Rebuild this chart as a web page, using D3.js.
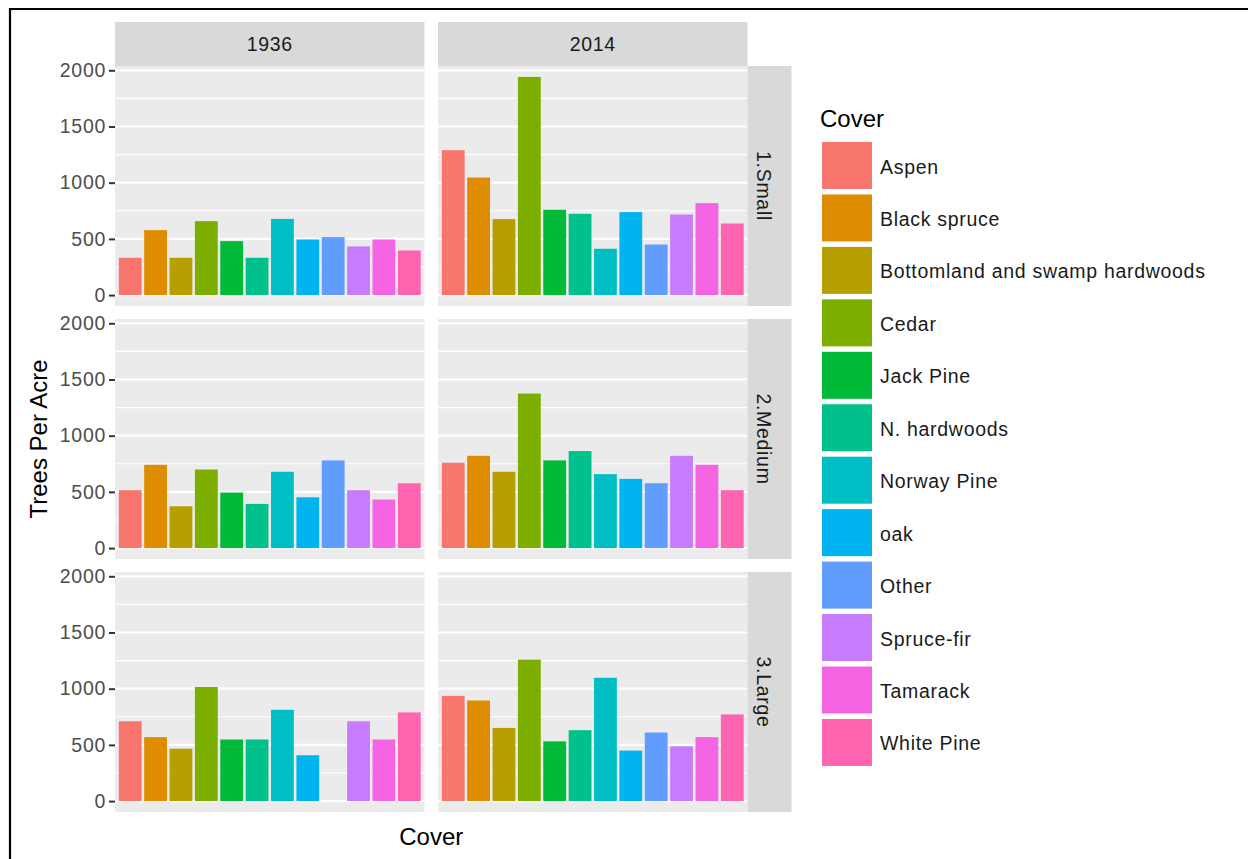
<!DOCTYPE html>
<html>
<head>
<meta charset="utf-8">
<script src="https://cdn.jsdelivr.net/npm/d3@7"></script>
<style>
  html, body { margin: 0; padding: 0; background: #fff; }
  svg { display: block; font-family: "Liberation Sans", Arial, sans-serif; }
</style>
</head>
<body>
<svg id="chart" width="1248" height="859"></svg>
<script>
// ---- data ----
const categories = ["Aspen", "Black spruce", "Bottomland and swamp hardwoods", "Cedar", "Jack Pine",
  "N. hardwoods", "Norway Pine", "oak", "Other", "Spruce-fir", "Tamarack", "White Pine"];
const years = ["1936", "2014"];
const sizes = ["1.Small", "2.Medium", "3.Large"];
const colors = ["#F8766D", "#DE8C00", "#B79F00", "#7CAE00", "#00BA38", "#00C08B",
  "#00BFC4", "#00B4F0", "#619CFF", "#C77CFF", "#F564E3", "#FF64B0"];

const small1936  = [332, 578, 332, 658, 480, 332, 678, 495, 516, 433, 495, 397];
const small2014  = [1289, 1046, 676, 1941, 759, 723, 412, 738, 450, 717, 818, 637];
const medium1936 = [515, 741, 372, 699, 494, 393, 679, 452, 780, 515, 432, 577];
const medium2014 = [759, 821, 679, 1375, 780, 863, 658, 616, 577, 821, 741, 515];
const large1936  = [710, 569, 466, 1015, 548, 548, 812, 408, null, 710, 548, 789];
const large2014  = [936, 895, 651, 1258, 531, 631, 1097, 449, 610, 487, 569, 771];

const yTicks = [0, 500, 1000, 1500, 2000];
const yMinor = [250, 750, 1250, 1750];

const panelData = {
  "1.Small":  { "1936": small1936,  "2014": small2014 },
  "2.Medium": { "1936": medium1936, "2014": medium2014 },
  "3.Large":  { "1936": large1936,  "2014": large2014 }
};

// ---- layout ----
const svg = d3.select("#chart");
const panelLeft = 115, panelW = 309.5, hGap = 13.5;
const panelTop = 66, panelH = 240, vGap = 13;
const stripH = 44, stripW = 44;
const labelFont = 19.5, titleFont = 24, ls = "0.7px";

// frame (cropped screenshot border)
svg.append("line").attr("x1", 9).attr("x2", 1248).attr("y1", 9).attr("y2", 9)
  .attr("stroke", "#000").attr("stroke-width", 2.2);
svg.append("line").attr("x1", 10).attr("x2", 10).attr("y1", 8).attr("y2", 859)
  .attr("stroke", "#000").attr("stroke-width", 2.2);

const maxVal = d3.max([small1936, small2014, medium1936, medium2014, large1936, large2014].flat());
const pad = maxVal * 0.05;
const y = d3.scaleLinear().domain([-pad, maxVal + pad]).range([panelH, 0]);
const x = d3.scaleBand().domain(categories).range([0, panelW]).paddingInner(0.1).paddingOuter(0.15);
const color = d3.scaleOrdinal().domain(categories).range(colors);

sizes.forEach((sz, r) => {
  years.forEach((yr, c) => {
    const px = panelLeft + c * (panelW + hGap);
    const py = panelTop + r * (panelH + vGap);
    const g = svg.append("g").attr("transform", `translate(${px},${py})`);
    g.append("rect").attr("width", panelW).attr("height", panelH).attr("fill", "#EBEBEB");
    g.selectAll("line.minor").data(yMinor).enter().append("line")
      .attr("x1", 0).attr("x2", panelW).attr("y1", d => y(d)).attr("y2", d => y(d))
      .attr("stroke", "#fff").attr("stroke-width", 1.1);
    g.selectAll("line.major").data(yTicks).enter().append("line")
      .attr("x1", 0).attr("x2", panelW).attr("y1", d => y(d)).attr("y2", d => y(d))
      .attr("stroke", "#fff").attr("stroke-width", 2.2);
    const vals = panelData[sz][yr];
    g.selectAll("rect.bar").data(categories.map((k, i) => ({ k, v: vals[i] })).filter(d => d.v != null))
      .enter().append("rect")
      .attr("x", d => x(d.k)).attr("width", x.bandwidth())
      .attr("y", d => y(d.v)).attr("height", d => y(0) - y(d.v))
      .attr("fill", d => color(d.k));

    if (c === 0) {
      const ax = g.append("g").call(d3.axisLeft(y).tickValues(yTicks).tickFormat(d3.format("d"))
        .tickSize(6).tickPadding(3));
      ax.select(".domain").remove();
      ax.selectAll(".tick line").attr("stroke", "#333").attr("stroke-width", 2);
      ax.selectAll(".tick text").attr("fill", "#4D4D4D").style("font-size", labelFont + "px")
        .style("letter-spacing", ls)
        .style("font-family", "'Liberation Sans', Arial, sans-serif");
    }
    if (r === 0) {
      svg.append("rect").attr("x", px).attr("y", panelTop - stripH).attr("width", panelW)
        .attr("height", stripH).attr("fill", "#D9D9D9");
      svg.append("text").attr("x", px + panelW / 2).attr("y", panelTop - stripH / 2)
        .attr("text-anchor", "middle").attr("dominant-baseline", "central")
        .attr("fill", "#1A1A1A").style("font-size", labelFont + "px").style("letter-spacing", ls).text(yr);
    }
    if (c === 1) {
      const sx = px + panelW;
      svg.append("rect").attr("x", sx).attr("y", py).attr("width", stripW)
        .attr("height", panelH).attr("fill", "#D9D9D9");
      svg.append("text").attr("transform", `translate(${sx + 16},${py + panelH / 2}) rotate(90)`)
        .attr("text-anchor", "middle").attr("dominant-baseline", "central")
        .attr("fill", "#1A1A1A").style("font-size", labelFont + "px").style("letter-spacing", ls).text(sz);
    }
  });
});

// axis titles
const panelsRight = panelLeft + 2 * panelW + hGap;
const panelsBottom = panelTop + 3 * panelH + 2 * vGap;
svg.append("text").attr("x", (panelLeft + panelsRight) / 2).attr("y", panelsBottom + 33)
  .attr("text-anchor", "middle").attr("fill", "#000").style("font-size", titleFont + "px").text("Cover");
svg.append("text").attr("transform", `translate(47,${(panelTop + panelsBottom) / 2}) rotate(-90)`)
  .attr("text-anchor", "middle").attr("fill", "#000").style("font-size", titleFont + "px").text("Trees Per Acre");

// legend
const legX = 822, legTop = 142, keyStep = 52.45, keyH = 47, keyW = 50;
svg.append("text").attr("x", 820).attr("y", 127).attr("fill", "#000")
  .style("font-size", titleFont + "px").text("Cover");
const leg = svg.selectAll("g.leg").data(categories).enter().append("g")
  .attr("transform", (d, i) => `translate(${legX},${legTop + i * keyStep})`);
leg.append("rect").attr("width", keyW).attr("height", keyH).attr("fill", d => color(d));
leg.append("text").attr("x", keyW + 8).attr("y", keyH / 2 + 1).attr("dominant-baseline", "central")
  .attr("fill", "#1A1A1A").style("font-size", labelFont + "px").style("letter-spacing", ls).text(d => d);
</script>
</body>
</html>
